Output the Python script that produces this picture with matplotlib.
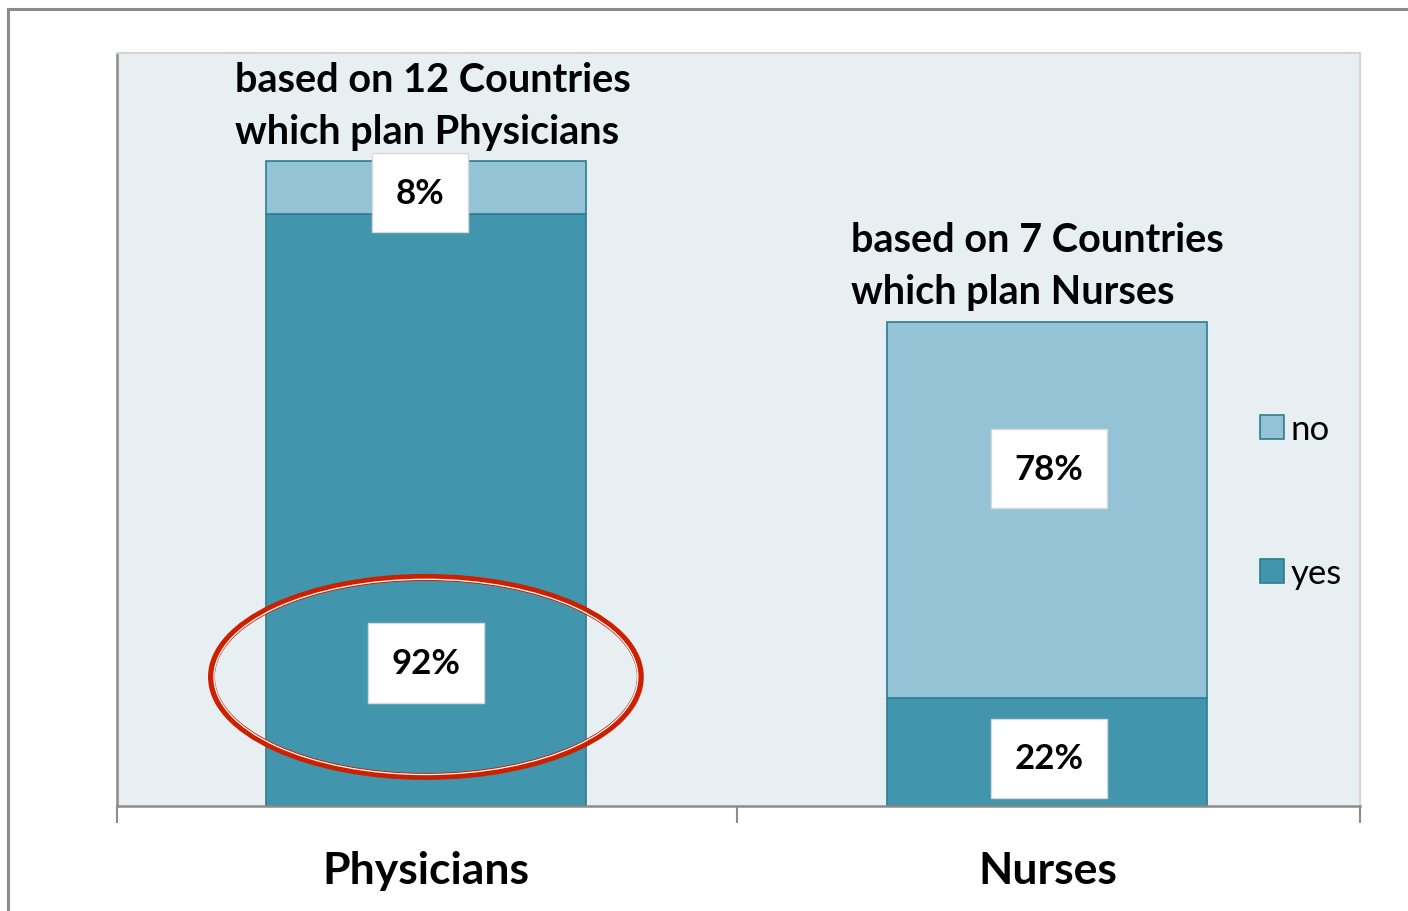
import matplotlib
matplotlib.use("Agg")
import matplotlib.pyplot as plt
from matplotlib.patches import Rectangle, Ellipse, Patch

categories = ["Physicians", "Nurses"]
yes_vals = [11, 2]
no_vals = [1, 7]
yes_labels = ["92%", "22%"]
no_labels = ["8%", "78%"]
notes = ["based on 12 Countries\nwhich plan Physicians", "based on 7 Countries\nwhich plan Nurses"]

# label placement (layout only)
yes_label_y = [2.66, 0.89]
no_label_y = [11.40, 6.27]
yes_dx = [0.0, 0.003]
no_dx = [-0.01, 0.003]

C_YES = "#4196AD"
C_NO = "#93C3D4"
C_EDGE = "#2E7C91"
C_BG = "#E8EFF3"

plt.rcParams['font.family'] = ['Lato', 'DejaVu Sans']

fig = plt.figure(figsize=(14.08, 9.12), dpi=100)
fig.patch.set_facecolor("white")
# outer frame
fig.add_artist(Rectangle((8/1408, -0.05), 1.1, (912-10)/912 + 0.05, transform=fig.transFigure,
                         fill=False, edgecolor="#8C8C8C", lw=2.2))

ax = fig.add_axes([117/1408, (912-807)/912, (1360-117)/1408, (807-54)/912])
ax.set_facecolor(C_BG)
x = [0, 1]
ax.bar(x, yes_vals, width=0.515, color=C_YES, edgecolor=C_EDGE, lw=1.2, label="yes", zorder=2)
ax.bar(x, no_vals, width=0.515, bottom=yes_vals, color=C_NO, edgecolor=C_EDGE, lw=1.2, label="no", zorder=2)
ax.set_xlim(-0.497, 1.503)
ax.set_ylim(0, 14)
ax.set_yticks([])
ax.set_xticks(x)
ax.set_xticklabels(categories, fontsize=32, fontweight="bold")
ax.tick_params(axis="x", which="major", length=0, pad=32)
ax.set_xticks([-0.497, 0.5, 1.503], minor=True)
ax.tick_params(axis="x", which="minor", length=12, width=1.5, color="#8C8C8C")
for s in ["top", "right"]:
    ax.spines[s].set_color("#D4D4D4")
    ax.spines[s].set_linewidth(1.5)
for s in ["left", "bottom"]:
    ax.spines[s].set_color("#8C8C8C")
    ax.spines[s].set_linewidth(1.8)

box = dict(boxstyle="square,pad=0.68", facecolor="white", edgecolor="#D8D8D8", lw=1)
for i in range(2):
    ax.text(x[i] + yes_dx[i], yes_label_y[i], yes_labels[i], ha="center", va="center",
            fontsize=25, fontweight="bold", bbox=box, zorder=5)
    ax.text(x[i] + no_dx[i], no_label_y[i], no_labels[i], ha="center", va="center",
            fontsize=25, fontweight="bold", bbox=box, zorder=5)

# notes above bars
ax.text(-0.307, (807-62)/753*14, notes[0], ha="left", va="top", fontsize=28.5,
        fontweight="bold", linespacing=1.49, zorder=6)
ax.text(0.684, (807-222)/753*14, notes[1], ha="left", va="top", fontsize=28.5,
        fontweight="bold", linespacing=1.49, zorder=6)

# highlight ellipse
ax.add_patch(Ellipse((0, 2.4), 0.69, 3.7, fill=False, edgecolor="#CC2000", lw=5, zorder=6))
ax.add_patch(Ellipse((0, 2.4), 0.682, 3.63, fill=False, edgecolor="white", lw=0.9, zorder=7))

h_no = Patch(facecolor=C_NO, edgecolor=C_EDGE, lw=1.2)
h_yes = Patch(facecolor=C_YES, edgecolor=C_EDGE, lw=1.2)
leg = ax.legend([h_no, h_yes], ["no", "yes"], loc="center left", bbox_to_anchor=(0.9085, 0.405),
                frameon=False, fontsize=25, handlelength=0.68, handleheight=0.68,
                handletextpad=0.2, labelspacing=3.23, borderaxespad=0)

fig.savefig("out.png", dpi=100, facecolor="white")
